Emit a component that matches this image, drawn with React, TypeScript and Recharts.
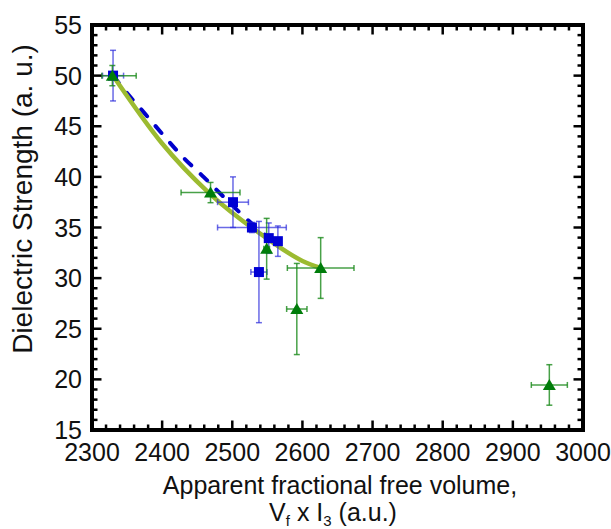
import React from "react";
import {
  ComposedChart,
  ErrorBar,
  Line,
  ReferenceArea,
  Scatter,
  XAxis,
  YAxis,
} from "recharts";

// tick labels
const xMajorTicks = [2300, 2400, 2500, 2600, 2700, 2800, 2900, 3000];
const yMajorTicks = [15, 20, 25, 30, 35, 40, 45, 50, 55];

// blue squares
const blueX = [2330, 2501, 2528, 2538, 2552, 2565];
const blueY = [50.0, 37.5, 35.0, 30.6, 33.95, 33.65];
const blueEx = [15, 22, 49, 11.5, 4, 5];
const blueEy = [2.5, 2.5, 0.5, 5, 1.5, 1.5];

// green triangles
const greenX = [2329, 2469, 2549, 2626, 2592, 2952];
const greenY = [50.0, 38.45, 32.9, 31.0, 26.95, 19.45];
const greenEx: [number, number][] = [[15, 34], [42, 42], [4, 4], [47.5, 47.5], [14.5, 14.5], [25.7, 25.7]];
const greenEy = [1, 1, 3, 3, 4.5, 2];

// fitted curves
const blueFitX = [2330, 2352, 2376, 2402, 2429, 2459, 2488, 2518, 2555];
const blueFitY = [50.0, 48.1, 46.2, 44.1, 42.0, 40.0, 38.0, 36.0, 33.8];
const greenFitX = [2330, 2400, 2467, 2550, 2600, 2626];
const greenFitY = [50.0, 43.3, 38.4, 33.9, 31.7, 31.0];

const blueData = blueX.map((x, i) => ({ x, y: blueY[i], ex: blueEx[i], ey: blueEy[i] }));
const greenData = greenX.map((x, i) => ({ x, y: greenY[i], ex: greenEx[i], ey: greenEy[i] }));
const blueFit = blueFitX.map((x, i) => ({ x, y: blueFitY[i] }));
const greenFit = greenFitX.map((x, i) => ({ x, y: greenFitY[i] }));

const xTicks: number[] = [];
for (let v = 2300; v <= 3000; v += 20) xTicks.push(v);
const yTicks: number[] = [];
for (let v = 15; v <= 55; v += 1) yTicks.push(v);

const FONT = "'Liberation Sans', Arial, sans-serif";

const XTick = ({ x, y, payload, top }: any) => {
  const major = xMajorTicks.includes(payload.value);
  const len = major ? 9.5 : 5.5;
  return (
    <g>
      <line x1={x} x2={x} y1={y} y2={top ? y + len : y - len} stroke="#000" strokeWidth={2.5} />
      {major && !top && (
        <text x={x} y={y + 31} textAnchor="middle" fontSize={25} fontFamily={FONT} fill="#111">
          {payload.value}
        </text>
      )}
    </g>
  );
};

const YTick = ({ x, y, payload, right }: any) => {
  const major = yMajorTicks.includes(payload.value);
  const len = major ? 9.5 : 5.5;
  return (
    <g>
      <line x1={x} x2={right ? x - len : x + len} y1={y} y2={y} stroke="#000" strokeWidth={2.5} />
      {major && !right && (
        <text x={x - 10} y={y + 9} textAnchor="end" fontSize={25} fontFamily={FONT} fill="#111">
          {payload.value}
        </text>
      )}
    </g>
  );
};

const Square = ({ cx, cy }: any) => <rect x={cx - 5} y={cy - 5} width={10} height={10} fill="#0000d4" />;
const Triangle = ({ cx, cy }: any) => (
  <path d={`M${cx},${cy - 6} L${cx + 6.5},${cy + 5} L${cx - 6.5},${cy + 5} Z`} fill="#007d0a" />
);

export default function App() {
  return (
    <div style={{ position: "absolute", left: 0, top: 0, background: "#fff" }}>
      <ComposedChart width={611} height={529} margin={{ top: 0, right: 0, bottom: 0, left: 0 }}>
        <XAxis
          xAxisId="b"
          type="number"
          dataKey="x"
          domain={[2300, 3000]}
          ticks={xTicks}
          interval={0}
          allowDataOverflow
          orientation="bottom"
          height={99}
          tickSize={0}
          tickMargin={0}
          axisLine={false}
          tickLine={false}
          tick={(p: any) => <XTick {...p} />}
          label={{
            content: () => (
              <g fontFamily={FONT} fontSize={25} fill="#111">
                <text x={340} y={494} textAnchor="middle">Apparent fractional free volume,</text>
                <text x={333} y={521} textAnchor="middle">
                  <tspan>V</tspan>
                  <tspan dy={5} fontSize={15}>f</tspan>
                  <tspan dy={-5}> x I</tspan>
                  <tspan dy={5} fontSize={15}>3</tspan>
                  <tspan dy={-5}> (a.u.)</tspan>
                </text>
              </g>
            ),
          }}
        />
        <XAxis
          xAxisId="t"
          type="number"
          dataKey="x"
          domain={[2300, 3000]}
          ticks={xTicks}
          interval={0}
          allowDataOverflow
          orientation="top"
          height={25}
          tickSize={0}
          tickMargin={0}
          axisLine={false}
          tickLine={false}
          tick={(p: any) => <XTick {...p} top />}
        />
        <YAxis
          yAxisId="l"
          type="number"
          dataKey="y"
          domain={[15, 55]}
          ticks={yTicks}
          interval={0}
          allowDataOverflow
          orientation="left"
          width={92}
          tickSize={0}
          tickMargin={0}
          axisLine={false}
          tickLine={false}
          tick={(p: any) => <YTick {...p} />}
          label={{
            content: () => (
              <text
                x={0}
                y={0}
                transform="translate(32,199) rotate(-90)"
                textAnchor="middle"
                fontFamily={FONT}
                fontSize={28}
                fill="#111"
              >
                Dielectric Strength (a. u.)
              </text>
            ),
          }}
        />
        <YAxis
          yAxisId="r"
          type="number"
          dataKey="y"
          domain={[15, 55]}
          ticks={yTicks}
          interval={0}
          allowDataOverflow
          orientation="right"
          width={28}
          tickSize={0}
          tickMargin={0}
          axisLine={false}
          tickLine={false}
          tick={(p: any) => <YTick {...p} right />}
        />
        <Line
          xAxisId="b"
          yAxisId="l"
          data={blueFit}
          dataKey="y"
          type="monotone"
          stroke="#0000cc"
          strokeWidth={4}
          strokeDasharray="9 13"
          strokeLinecap="round"
          dot={false}
          activeDot={false}
          isAnimationActive={false}
        />
        <Line
          xAxisId="b"
          yAxisId="l"
          data={greenFit}
          dataKey="y"
          type="monotone"
          stroke="#9cbb30"
          strokeWidth={4.5}
          dot={false}
          activeDot={false}
          isAnimationActive={false}
        />
        <Scatter
          xAxisId="b"
          yAxisId="l"
          data={blueData}
          dataKey="y"
          shape={(p: any) => <Square {...p} />}
          isAnimationActive={false}
        >
          <ErrorBar dataKey="ey" direction="y" width={3} stroke="#2b2bdc" strokeOpacity={0.7} strokeWidth={1.5} />
          <ErrorBar dataKey="ex" direction="x" width={3} stroke="#2b2bdc" strokeOpacity={0.7} strokeWidth={1.5} />
        </Scatter>
        <Scatter
          xAxisId="b"
          yAxisId="l"
          data={greenData}
          dataKey="y"
          shape={(p: any) => <Triangle {...p} />}
          isAnimationActive={false}
        >
          <ErrorBar dataKey="ey" direction="y" width={3} stroke="#1a8a1a" strokeOpacity={0.8} strokeWidth={1.5} />
          <ErrorBar dataKey="ex" direction="x" width={3} stroke="#1a8a1a" strokeOpacity={0.8} strokeWidth={1.5} />
        </Scatter>
        <ReferenceArea
          xAxisId="b"
          yAxisId="l"
          x1={2300}
          x2={3000}
          y1={15}
          y2={55}
          fill="none"
          stroke="#000"
          strokeWidth={4}
          ifOverflow="visible"
        />
      </ComposedChart>
    </div>
  );
}
